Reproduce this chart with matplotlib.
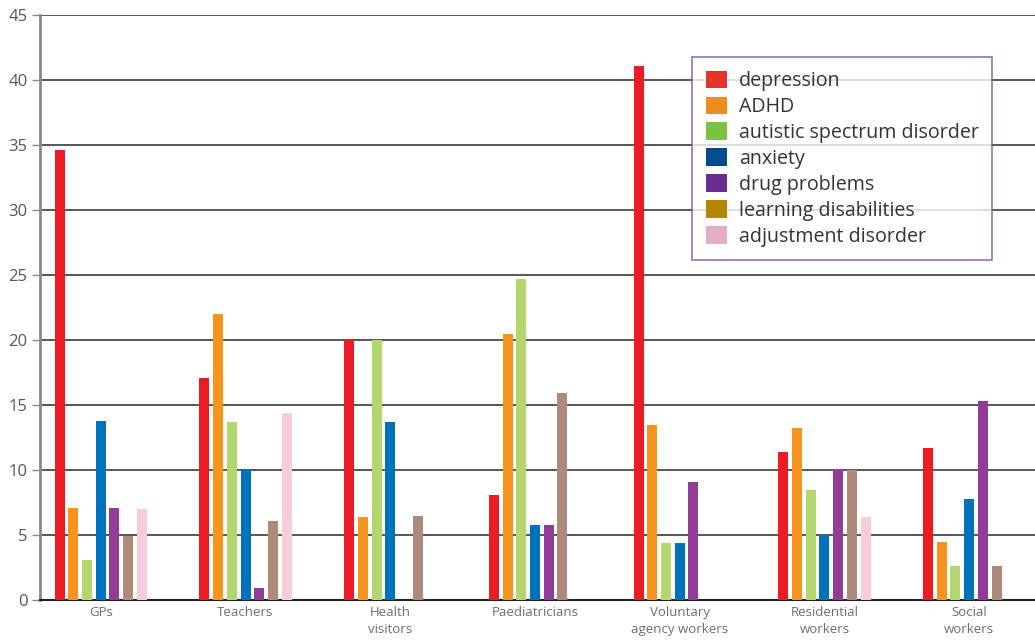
import matplotlib
matplotlib.use("Agg")
import matplotlib.pyplot as plt
from matplotlib.patches import Patch
import numpy as np

plt.rcParams['font.family'] = ['Open Sans', 'DejaVu Sans']

# professional groups on the x axis
groups = ["GPs", "Teachers", "Health\nvisitors", "Paediatricians",
          "Voluntary\nagency workers", "Residential\nworkers", "Social\nworkers"]

# conditions (one bar per condition in each group)
conditions = ["depression", "ADHD", "autistic spectrum disorder", "anxiety",
              "drug problems", "learning disabilities", "adjustment disorder"]

# values, one list per condition (0 = no bar)
depression = [34.6, 17.1, 20.1, 8.1, 41.1, 11.4, 11.7]
adhd = [7.1, 22.0, 6.4, 20.5, 13.5, 13.2, 4.5]
autistic = [3.1, 13.7, 20.0, 24.7, 4.4, 8.5, 2.6]
anxiety = [13.8, 10.1, 13.7, 5.8, 4.4, 5.0, 7.8]
drugs = [7.1, 0.9, 0, 5.8, 9.1, 10.1, 15.3]
learning = [4.9, 6.1, 6.5, 15.9, 0, 10.0, 2.6]
adjustment = [7.0, 14.4, 0, 0, 0, 6.4, 0]

series = [depression, adhd, autistic, anxiety, drugs, learning, adjustment]

bar_colors = ["#ed1c24", "#f7941d", "#b5d56f", "#0071bb",
              "#923c97", "#ad8a79", "#f8cbdd"]
legend_colors = ["#e5332a", "#ec8e1f", "#7bc242", "#004b8d",
                 "#6a2d8f", "#b38600", "#e3adc4"]

fig = plt.figure(figsize=(10.35, 6.42), dpi=100)
ax = fig.add_axes([40 / 1035, 1 - 600 / 642, 1 - 40 / 1035, (600 - 15) / 642])

x = np.arange(len(groups))
pitch = 13.7 / 144.75
width = 10 / 144.75

for j, (vals, col) in enumerate(zip(series, bar_colors)):
    vals = np.array(vals, dtype=float)
    keep = vals > 0
    ax.bar(x[keep] + (j - 3) * pitch, vals[keep], width=width,
           color=col, zorder=3)

ax.set_xlim(-0.42, 6.455)
ax.set_ylim(0, 45)
ax.set_yticks(np.arange(0, 46, 5))
ax.yaxis.grid(True, color="#3a3a3a", linewidth=1.2, zorder=0)
ax.set_axisbelow(True)

ax.set_xticks(x)
ax.set_xticklabels(groups, fontsize=9.5, color="#6d6d6d", linespacing=1.45)
ax.tick_params(axis="x", length=0, pad=4)
ax.tick_params(axis="y", length=6, width=1, color="#888888",
               labelsize=12, labelcolor="#555555", pad=3)

for side in ("top", "right"):
    ax.spines[side].set_visible(False)
ax.spines["left"].set_color("#8a8a8a")
ax.spines["left"].set_linewidth(2)
ax.spines["bottom"].set_color("#222222")
ax.spines["bottom"].set_linewidth(1.5)

handles = [Patch(facecolor=c, edgecolor="none") for c in legend_colors]
leg = fig.legend(handles, conditions, loc="upper left",
                 bbox_to_anchor=(692 / 1035, 1 - 57 / 642),
                 frameon=True, fancybox=False, fontsize=14.1,
                 handlelength=1.07, handleheight=1.02, handletextpad=0.62,
                 labelspacing=0.27, borderpad=0.7, borderaxespad=0)
leg.get_frame().set_edgecolor("#7b4fa0")
leg.get_frame().set_linewidth(1.2)
for t in leg.get_texts():
    t.set_color("#333333")

fig.savefig("out.png", dpi=100)
